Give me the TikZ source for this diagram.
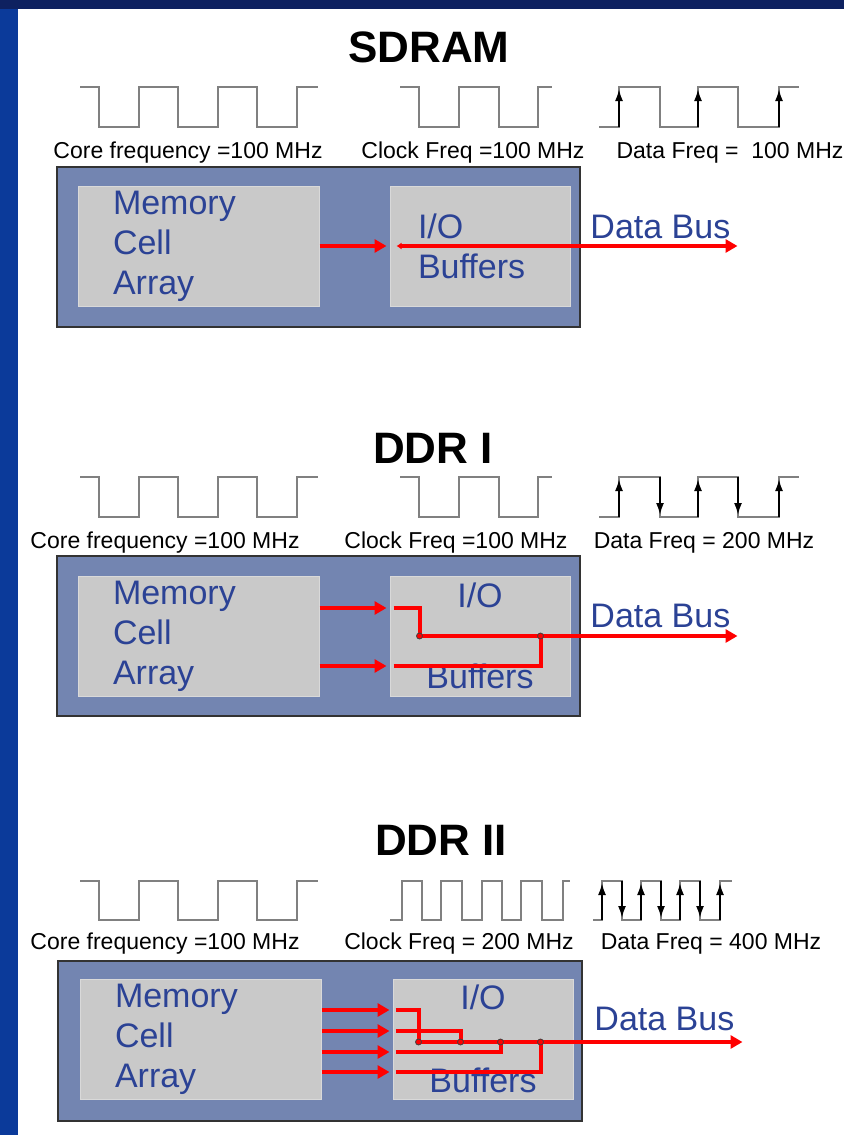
\documentclass[tikz,border=0pt]{standalone}
\usepackage{fontspec}
\setmainfont{Liberation Sans}
\usepackage{tikz}
\usetikzlibrary{arrows.meta,positioning}

\definecolor{navy}{HTML}{0E2160}
\definecolor{sideblue}{HTML}{0B3A9A}
\definecolor{slate}{HTML}{7385B1}
\definecolor{cellgray}{HTML}{C9C9C9}
\definecolor{inkblue}{HTML}{2B4295}
\definecolor{busred}{HTML}{FF0000}

\begin{document}
\begin{tikzpicture}[
  x=1pt, y=-1pt,
  node distance=70pt,
  title/.style={font=\fontsize{44}{50}\selectfont\bfseries},
  freq/.style={anchor=base, inner sep=0pt, font=\fontsize{23}{26}\selectfont},
  chip/.style={draw=black!80, line width=1.5pt, fill=slate, minimum width=523pt,
    minimum height=160pt, inner sep=0pt},
  cell/.style={fill=cellgray, draw=cellgray!70!white, line width=1pt, minimum height=120pt,
    inner sep=0pt, text=inkblue, font=\fontsize{34}{40}\selectfont},
  mem/.style={cell, minimum width=241pt, text width=171pt, align=left},
  io/.style={cell, minimum width=180pt, text width=124pt},
  wave/.style={black!50, line width=2pt},
  strobe/.style={-{Latex[length=12pt,width=8pt]}, black, line width=2pt, shorten >=2pt},
  feed/.style={-{Triangle[length=12pt,width=13pt]}, busred, line width=4pt, shorten >=3pt},
  bus/.style={busred, line width=4pt},
  busout/.style={bus, -{Triangle[length=12pt,width=13pt]}},
  joint/.style={circle, draw=black!75, fill=busred, line width=0.8pt, inner sep=0pt, minimum size=6pt},
  bustext/.style={anchor=base east, inner sep=0pt, text=inkblue, font=\fontsize{34}{40}\selectfont},
]
  \useasboundingbox (0,0) rectangle (844,1135);
  \fill[white] (0,0) rectangle (844,1135);
  \fill[sideblue] (0,0) rectangle (18,1135);
  \fill[navy] (0,0) rectangle (844,9);

  % SDRAM
  \node[title] (sdram) at (429,47) {SDRAM};
  \draw[wave] (80,87) -| (99,127) -| (139,87) -| (178,127) -| (218,87) -| (257,127) -| (297,87) -- (318,87);
  \draw[wave] (400,87) -| (419,127) -| (459,87) -| (499,127) -| (538,87) -- (552,87);
  \draw[wave] (599,127) -| (619,87) -| (660,127) -| (698,87) -| (738,127) -| (779,87) -- (799,87);
  \draw[strobe] (619,127) -- (619,87);
  \draw[strobe] (698,127) -- (698,87);
  \draw[strobe] (779,127) -- (779,87);
  \node[freq] (core1) at (188,158) {Core frequency =100 MHz};
  \node[freq] (clock1) at (473,158) {Clock Freq =100 MHz};
  \node[freq] (data1) at (730,158) {Data Freq =\ \ 100 MHz};

  \node[chip] (chip1) at (318.5,247) {};
  \node[mem] (mem1) at (198.5,246) {Memory\\Cell\\Array};
  \node[io, align=left, right=of mem1] (io1) {I/O\\Buffers};
  \coordinate[right=167pt of io1.east] (out1);
  \draw[feed] (mem1.east) -- (io1.west);
  \draw[bus, {Latex[length=5pt,width=7pt]}-{Triangle[length=12pt,width=13pt]}]
    ([xshift=7pt]io1.west) -- (out1);
  \node[bustext] (lbl1) at ([xshift=-7pt,yshift=8pt]out1) {Data Bus};

  % DDR I
  \node[title] (ddr1) at (433,448) {DDR I};
  \draw[wave] (80,477) -| (99,517) -| (139,477) -| (178,517) -| (218,477) -| (257,517) -| (297,477) -- (318,477);
  \draw[wave] (400,477) -| (419,517) -| (459,477) -| (499,517) -| (538,477) -- (552,477);
  \draw[wave] (599,517) -| (619,477) -| (660,517) -| (698,477) -| (738,517) -| (779,477) -- (799,477);
  \draw[strobe] (619,517) -- (619,477);
  \draw[strobe] (660,477) -- (660,517);
  \draw[strobe] (698,517) -- (698,477);
  \draw[strobe] (738,477) -- (738,517);
  \draw[strobe] (779,517) -- (779,477);
  \node[freq] (core2) at (165,548) {Core frequency =100 MHz};
  \node[freq] (clock2) at (456,548) {Clock Freq =100 MHz};
  \node[freq] (data2) at (704,548) {Data Freq = 200 MHz};

  \node[chip] (chip2) at (318.5,636) {};
  \node[mem] (mem2) at (198.5,636) {Memory\\Cell\\Array};
  \node[io, align=center, right=of mem2] (io2) {I/O\\[41pt]Buffers};
  \coordinate[right=167pt of io2.east] (out2);
  \coordinate[right=30pt of io2.west] (j2a);
  \coordinate[right=151pt of io2.west] (j2b);
  \draw[feed] ([yshift=28pt]mem2.east) -- ([yshift=28pt]io2.west);
  \draw[feed] ([yshift=-30pt]mem2.east) -- ([yshift=-30pt]io2.west);
  \draw[bus] ([xshift=4pt,yshift=28pt]io2.west) -| (j2a);
  \draw[bus] ([xshift=4pt,yshift=-30pt]io2.west) -| (j2b);
  \draw[busout] (j2a) -- (out2);
  \node[joint] (dot2a) at (j2a) {};
  \node[joint] (dot2b) at (j2b) {};
  \node[bustext] (lbl2) at ([xshift=-7pt,yshift=9pt]out2) {Data Bus};

  % DDR II
  \node[title] (ddr2) at (441,840) {DDR II};
  \draw[wave] (80,881) -| (99,920) -| (139,881) -| (178,920) -| (218,881) -| (257,920) -| (297,881) -- (318,881);
  \draw[wave] (390,920) -| (402,881) -| (422,920) -| (441,881) -| (462,920) -| (482,881) -| (502,920) -| (521,881) -| (542,920) -| (563,881) -- (570,881);
  \draw[wave] (593,920) -| (602,881) -| (622,920) -| (641,881) -| (661,920) -| (680,881) -| (700,920) -| (720,881) -- (732,881);
  \draw[strobe] (602,920) -- (602,881);
  \draw[strobe] (622,881) -- (622,920);
  \draw[strobe] (641,920) -- (641,881);
  \draw[strobe] (661,881) -- (661,920);
  \draw[strobe] (680,920) -- (680,881);
  \draw[strobe] (700,881) -- (700,920);
  \draw[strobe] (720,920) -- (720,881);
  \node[freq] (core3) at (165,949) {Core frequency =100 MHz};
  \node[freq] (clock3) at (459,949) {Clock Freq = 200 MHz};
  \node[freq] (data3) at (711,949) {Data Freq = 400 MHz};

  \node[chip, minimum width=524pt] (chip3) at (320,1041) {};
  \node[mem] (mem3) at (200.5,1039) {Memory\\Cell\\Array};
  \node[io, align=center, right=71pt of mem3] (io3) {I/O\\[43pt]Buffers};
  \coordinate[right=169pt of io3.east] (out3);
  \coordinate[xshift=26pt, yshift=-3pt] (j3a) at (io3.west);
  \coordinate[xshift=68pt, yshift=-3pt] (j3b) at (io3.west);
  \coordinate[xshift=108pt, yshift=-3pt] (j3c) at (io3.west);
  \coordinate[xshift=148pt, yshift=-3pt] (j3d) at (io3.west);
  \draw[feed] ([yshift=29pt]mem3.east) -- ([yshift=29pt]io3.west);
  \draw[feed] ([yshift=8pt]mem3.east) -- ([yshift=8pt]io3.west);
  \draw[feed] ([yshift=-13pt]mem3.east) -- ([yshift=-13pt]io3.west);
  \draw[feed] ([yshift=-33pt]mem3.east) -- ([yshift=-33pt]io3.west);
  \draw[bus] ([xshift=3pt,yshift=29pt]io3.west) -| (j3a);
  \draw[bus] ([xshift=3pt,yshift=8pt]io3.west) -| (j3b);
  \draw[bus] ([xshift=3pt,yshift=-13pt]io3.west) -| (j3c);
  \draw[bus] ([xshift=3pt,yshift=-33pt]io3.west) -| (j3d);
  \draw[busout] (j3a) -- (out3 |- j3a);
  \node[joint] (dot3a) at (j3a) {};
  \node[joint] (dot3b) at (j3b) {};
  \node[joint] (dot3c) at (j3c) {};
  \node[joint] (dot3d) at (j3d) {};
  \node[bustext] (lbl3) at ([xshift=-8pt,yshift=12pt]out3 |- j3a) {Data Bus};
\end{tikzpicture}
\end{document}
